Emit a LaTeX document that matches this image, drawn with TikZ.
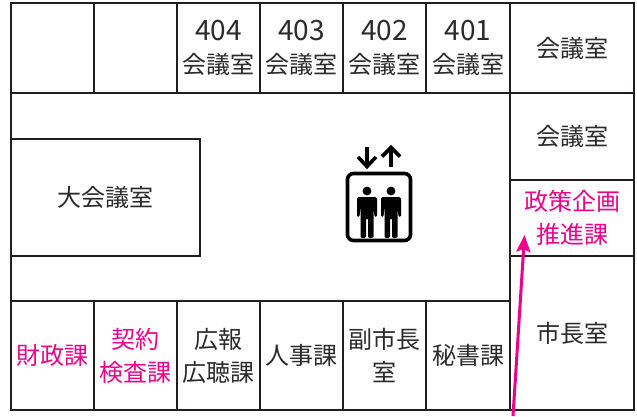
\documentclass[tikz,border=0pt]{standalone}
\usepackage{fontspec}
\setmainfont{Noto Sans CJK JP}
\usetikzlibrary{positioning,arrows.meta}
\definecolor{wallcol}{HTML}{231F20}
\definecolor{textcol}{HTML}{2B2B2B}
\definecolor{pinkcol}{HTML}{EC008C}

\begin{document}
\begin{tikzpicture}[
  x=1pt, y=-1pt,
  node distance=0pt,
  wall/.style={draw=wallcol, line width=2pt, outer sep=0pt, inner sep=0pt, align=center, text=textcol, font=\fontsize{24}{33}\selectfont},
  room/.style={wall, minimum width=83pt, minimum height=90pt},
  lowroom/.style={wall, minimum width=83pt, minimum height=109pt},
  sideroom/.style={wall, minimum width=124pt},
  pinktext/.style={text=pinkcol}
]
  \useasboundingbox (0,0) rectangle (637,416);
  \fill[white] (0,0) rectangle (637,416);

  \node (frame) [wall, minimum width=623pt, minimum height=407pt] at (322.5,206.5) {};

  % top row
  \node (r1) [room] at (52.5,48) {};
  \node (r2) [room, right=of r1] {};
  \node (r404) [room, right=of r2] {{\fontsize{28}{33}\selectfont 404}\\会議室};
  \node (r403) [room, right=of r404] {{\fontsize{28}{33}\selectfont 403}\\会議室};
  \node (r402) [room, right=of r403] {{\fontsize{28}{33}\selectfont 402}\\会議室};
  \node (r401) [room, right=of r402, minimum width=84pt] {{\fontsize{28}{33}\selectfont 401}\\会議室};

  % right column
  \node (kaigi1) [sideroom, right=of r401, minimum height=90pt] {会議室};
  \node (kaigi2) [sideroom, below=of kaigi1, minimum height=87pt] {会議室};
  \node (seisaku) [sideroom, below=of kaigi2, minimum height=76pt, pinktext] {政策企画\\推進課};
  \node (shicho) [sideroom, below=of seisaku, minimum height=154pt] {市長室};

  \node (daikaigi) [wall, minimum width=189pt, minimum height=117pt] at (105.5,197.5) {大会議室};

  % bottom row
  \node (zaisei) [lowroom, pinktext] at (52.5,355.5) {財政課};
  \node (keiyaku) [lowroom, right=of zaisei, pinktext] {契約\\検査課};
  \node (koho) [lowroom, right=of keiyaku] {広報\\広聴課};
  \node (jinji) [lowroom, right=of koho] {人事課};
  \node (fuku) [lowroom, right=of jinji] {副市長\\室};
  \node (hisho) [lowroom, right=of fuku, minimum width=84pt] {秘書課};

  % elevator
  \draw[black, line width=3.6pt, rounded corners=6pt] (347.5,173.5) rectangle (410.5,240.5);
  \foreach \px in {367,391} {
    \fill[black] (\px,191) circle (4.4pt);
    \fill[black, rounded corners=1.5pt] (\px-10,197) -- (\px+10,197) -- (\px+10,217) -- (\px+7.5,217)
      -- (\px+6.5,206) -- (\px+6.5,238) -- (\px+1,238) -- (\px+1,218) -- (\px-1,218) -- (\px-1,238)
      -- (\px-6.5,238) -- (\px-6.5,206) -- (\px-7.5,217) -- (\px-10,217) -- cycle;
  }
  \draw[black, line width=3.6pt] (367,147) -- (367,166);
  \draw[black, line width=3.6pt] (358,157) -- (367,166.5) -- (376,157);
  \draw[black, line width=3.6pt] (391,148) -- (391,167);
  \draw[black, line width=3.6pt] (382,156.5) -- (391,147.5) -- (400,156.5);

  % arrow
  \coordinate (arrowfoot) at (513,416);
  \coordinate (arrowtip) at (524.5,235);
  \draw[pinkcol, line width=3pt, -{Stealth[length=17pt, width=14pt, inset=3pt]}] (arrowfoot) -- (arrowtip);
\end{tikzpicture}
\end{document}
